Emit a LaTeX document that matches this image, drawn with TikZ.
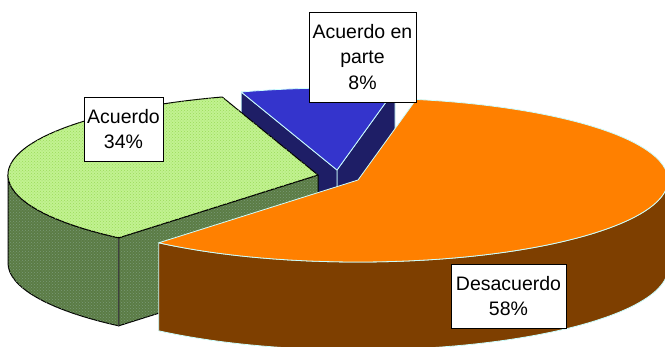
\documentclass[tikz,border=0pt]{standalone}
\usepackage{fontspec}
\setmainfont{Liberation Sans}
\usetikzlibrary{patterns}

\definecolor{verdesup}{HTML}{C2F291}
\definecolor{verdetrama}{HTML}{9ADB5A}
\definecolor{verdelado}{HTML}{5B7C45}
\definecolor{verdeladotrama}{HTML}{7A9A78}
\definecolor{azulsup}{HTML}{3434CC}
\definecolor{azullado}{HTML}{1E1E66}
\definecolor{naranjasup}{HTML}{FF8000}
\definecolor{naranjalado}{HTML}{7E3F00}
\definecolor{borde}{HTML}{CCFFFF}

\begin{document}
\begin{tikzpicture}[x=1pt,y=1pt,
    rotulo/.style={draw=black, line width=0.9pt, fill=white, align=center, inner sep=0pt,
      font=\fontsize{19.5}{25.5}\selectfont},
    claro/.style={draw=borde, line width=0.8pt, line join=round},
    oscuro/.style={draw=black, line width=1pt, line join=round},
    elipse/.style={x radius=310, y radius=82}]
\useasboundingbox (0,0) rectangle (665,346);
\clip (0,0) rectangle (665,346);

\coordinate (azul) at (337,176);
\coordinate (verde) at (318,171);
\coordinate (naranja) at (358,166);

\filldraw[claro, fill=azullado] (azul) -- ++(79.2:310 and 82) -- ++(0,-88) -- ++(259.2:310 and 82) -- cycle;
\filldraw[claro, fill=azullado] (azul) -- ++(108:310 and 82) -- ++(0,-88) -- ++(288:310 and 82) -- cycle;
\filldraw[claro, fill=azulsup] (azul) -- ++(79.2:310 and 82)
  arc[elipse, start angle=79.2, end angle=108] -- cycle;

\filldraw[oscuro, fill=verdelado, postaction={pattern=crosshatch dots, pattern color=verdeladotrama}]
  (verde) -- ++(230:310 and 82) -- ++(0,-88) -- ++(50:310 and 82) -- cycle;
\filldraw[oscuro, fill=verdelado, postaction={pattern=crosshatch dots, pattern color=verdeladotrama}]
  (verde) ++(180:310 and 82) arc[elipse, start angle=180, end angle=230]
  -- ++(0,-88) arc[elipse, start angle=230, end angle=180] -- cycle;
\draw[draw=black!75, line width=1.2pt] (verde) ++(230:310 and 82) -- ++(0,-88);
\filldraw[oscuro, fill=verdesup, postaction={pattern=crosshatch dots, pattern color=verdetrama}]
  (verde) -- ++(108:310 and 82)
  arc[elipse, start angle=108, end angle=230] -- cycle;

\filldraw[claro, fill=naranjalado] (naranja) ++(230:310 and 82)
  arc[elipse, start angle=230, end angle=360]
  -- ++(0,-88) arc[elipse, start angle=360, end angle=230] -- cycle;
\filldraw[claro, fill=naranjasup] (naranja) -- ++(230:310 and 82)
  arc[elipse, start angle=230, end angle=439.2] -- cycle;

\node[rotulo, minimum width=79, minimum height=64] (acuerdo) at (123.5,217) {Acuerdo\\34\%};
\node[rotulo, minimum width=107, minimum height=90] (parte) at (362.5,289) {Acuerdo en\\parte\\8\%};
\node[rotulo, minimum width=115, minimum height=64] (desacuerdo) at (508.5,50) {Desacuerdo\\58\%};
\end{tikzpicture}
\end{document}
